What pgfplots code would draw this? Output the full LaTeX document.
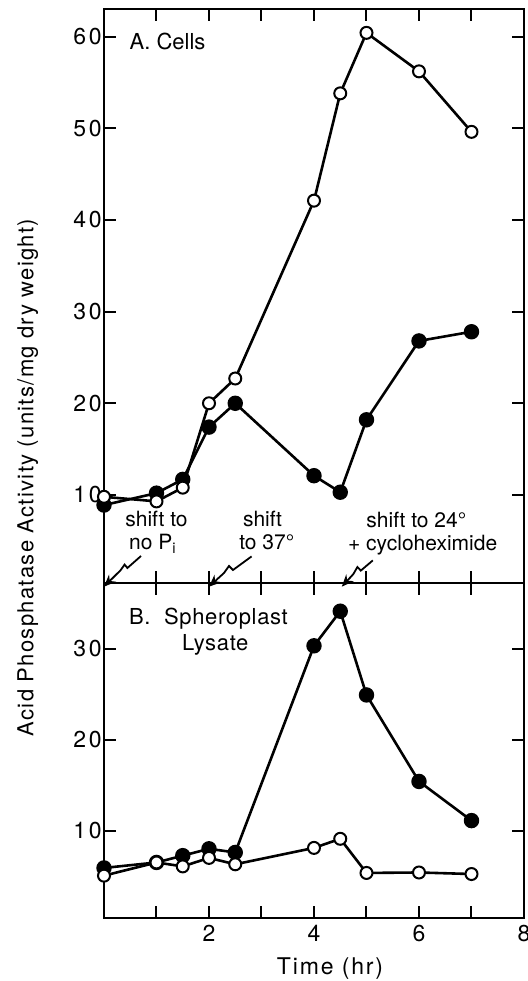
\documentclass[border=0pt]{standalone}
\usepackage{fontspec}
\setmainfont{TeX Gyre Heros}
\usepackage{pgfplots}
\pgfplotsset{compat=1.18}
\usetikzlibrary{arrows.meta}

\pgfplotstableread{
x y
0 8.9
1 10.2
1.5 11.7
2 17.4
2.5 20.0
4 12.1
4.5 10.3
5 18.2
6 26.8
7 27.8
}\cellsfilled
\pgfplotstableread{
x y
0 9.8
1 9.3
1.5 10.8
2 20.0
2.5 22.7
4 42.1
4.5 53.8
5 60.4
6 56.2
7 49.6
}\cellsopen
\pgfplotstableread{
x y
0 5.9
1 6.5
1.5 7.25
2 8.0
2.5 7.6
4 30.3
4.5 34.1
5 24.9
6 15.4
7 11.1
}\lysfilled
\pgfplotstableread{
x y
0 5.05
1 6.5
1.5 6.07
2 7.0
2.5 6.3
4 8.1
4.5 9.1
5 5.35
6 5.4
7 5.23
}\lysopen

\tikzset{zz/.style={line width=0.9pt, -{Stealth[length=6pt,width=5pt]}}}

\begin{document}
\begin{tikzpicture}
\useasboundingbox (0,0) rectangle (263.5pt,490.5pt);
\pgfplotsset{
 every axis/.append style={
  scale only axis, width=210pt, xmin=0, xmax=8, clip=false,
  axis line style={line width=1pt},
  every tick/.style={line width=1pt, black},
  major tick length=6pt, minor tick length=6pt,
  tick align=inside,
  tick label style={font=\fontsize{11.5}{13}\selectfont\addfontfeatures{LetterSpace=12}},
  /pgf/number format/assume math mode=true,
  yticklabel style={inner sep=1pt},
 },
 filled/.style={black, line width=1.3pt, mark=*, mark size=3.2pt, mark options={solid, fill=black}},
 open/.style={black, line width=1.3pt, mark=*, mark size=3pt, mark options={solid, fill=white, line width=1pt}},
}
% bottom panel
\begin{axis}[at={(52pt,31.5pt)}, anchor=south west, height=167.5pt,
  ymin=0.4, ymax=37.2,
  xtick={2,4,6,8}, minor xtick={1,3,5,7},
  ytick={10,20,30}]
\addplot[filled] table[x=x,y=y] {\lysfilled};
\addplot[open] table[x=x,y=y] {\lysopen};
\node[anchor=base west, inner sep=0pt, font=\fontsize{11}{13}\selectfont\addfontfeatures{LetterSpace=3}] at (axis cs:0.47,32.65) {B.\ \ Spheroplast};
\node[anchor=base, inner sep=0pt, font=\fontsize{11}{13}\selectfont\addfontfeatures{LetterSpace=3}] at (axis cs:2.12,29.8) {Lysate};
\end{axis}
% top panel
\begin{axis}[at={(52pt,199pt)}, anchor=south west, height=287pt,
  ymin=0.4, ymax=63,
  xtick={1,2,3,4,5,6,7}, xticklabels={},
  ytick={10,20,30,40,50,60}]
\addplot[filled] table[x=x,y=y] {\cellsfilled};
\addplot[open] table[x=x,y=y] {\cellsopen};
\node[anchor=base west, inner sep=0pt, font=\fontsize{11}{13}\selectfont] at (axis cs:0.48,58.6) {A.\ Cells};
\begin{scope}[every node/.style={anchor=base, inner sep=0pt, font=\fontsize{10.5}{12}\selectfont}]
\node at (axis cs:1.0,6.55) {shift to};
\node at (axis cs:0.93,4.0) {no P\textsubscript{i}};
\node at (axis cs:3.02,6.55) {shift};
\node at (axis cs:3.1,4.0) {to 37°};
\node at (axis cs:5.95,6.45) {shift to 24°};
\node at (axis cs:6.07,3.9) {+ cycloheximide};
\end{scope}
\draw[zz, shift={(axis cs:0,0.4)}] (18.5pt,13.5pt) -- (11.7pt,7.5pt) -- (10.3pt,9.2pt) -- (8.3pt,6.4pt) -- (0,0);
\draw[zz, shift={(axis cs:2,0.4)}] (21.3pt,13.3pt) -- (12pt,6.5pt) -- (10pt,8.5pt) -- (7.5pt,5pt) -- (0,0);
\draw[zz, shift={(axis cs:4.53,0.4)}] (15.5pt,11.3pt) -- (9.5pt,6.2pt) -- (7.8pt,8pt) -- (5.8pt,4.5pt) -- (0,0);
\end{axis}
\node[rotate=90, anchor=base, inner sep=0pt, font=\fontsize{11}{13}\selectfont\addfontfeatures{LetterSpace=6}] at (16.7pt,251.75pt) {Acid Phosphatase Activity (units/mg dry weight)};
\node[anchor=base, inner sep=0pt, font=\fontsize{11.5}{13}\selectfont\addfontfeatures{LetterSpace=8}] at (165pt,3pt) {Time (hr)};
\end{tikzpicture}
\end{document}
